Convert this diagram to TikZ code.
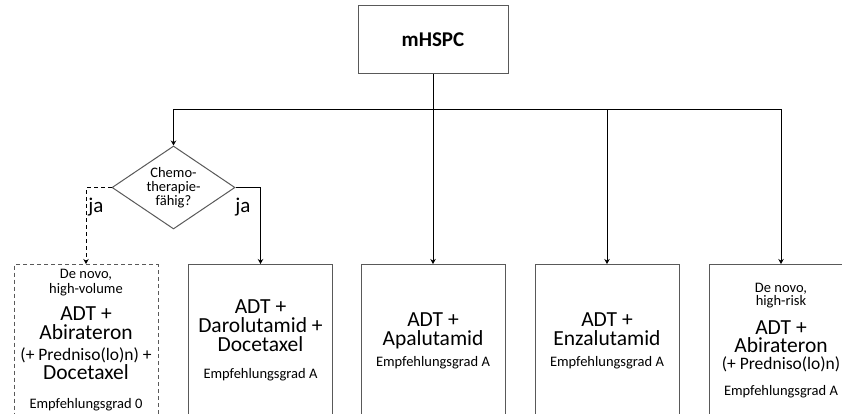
\documentclass[tikz,border=0pt]{standalone}
\usepackage{fontspec}
\setmainfont{Carlito}
\usetikzlibrary{shapes.geometric,arrows.meta}

\newcommand{\smtxt}[1]{{\fontsize{14.5}{13}\selectfont #1}}
\newcommand{\midtxt}[1]{{\fontsize{17.5}{17}\selectfont #1}}

\begin{document}
\begin{tikzpicture}[x=1pt,y=-1pt,
		>={Stealth[length=5pt,width=5.5pt]},
		line/.style={line width=0.8pt},
		box/.style={draw=black!65, line width=1pt, minimum width=144pt, minimum height=152pt,
			anchor=north, align=center, inner sep=0pt, font=\fontsize{21.5}{19}\selectfont},
		decision/.style={diamond, draw=black!65, line width=1pt, minimum width=123pt,
			minimum height=83pt, shape aspect=1.48, inner sep=0pt, align=center,
			font=\fontsize{14.5}{14}\selectfont}]
			\clip (0,0) rectangle (842,414);
			\def \y{264};
			% top and decision
			\node[draw=black!65, line width=1pt, minimum width=150pt, minimum height=68pt,
				font=\bfseries\fontsize{21}{24}\selectfont] (mhspc) at (433,40) {mHSPC};
			\coordinate (split) at (433,109);
			\node[decision] (chemo) at (173.5,187.5) {Chemo-\\therapie-\\fähig?};
			\node[font=\fontsize{21}{24}\selectfont] (jal) at (96,207) {ja};
			\node[font=\fontsize{21}{24}\selectfont] (jar) at (243,207) {ja};
			% therapy boxes
			\node[box, dash pattern=on 4pt off 3pt] (b1) at (86,\y) {\smtxt{De novo,}\\[-4pt] \smtxt{high-volume}\\[8pt] ADT +\\ Abirateron\\[2pt] \midtxt{(+ Predniso(lo)n) +}\\ Docetaxel\\[10pt] \smtxt{Empfehlungsgrad 0}};
			\node[box] (b2) at (260.5,\y) {ADT +\\ Darolutamid +\\ Docetaxel\\[8pt] \smtxt{Empfehlungsgrad A}};
			\node[box] (b3) at (433,\y) {ADT +\\ Apalutamid\\[2pt] \smtxt{Empfehlungsgrad A}};
			\node[box] (b4) at (607,\y) {ADT +\\ Enzalutamid\\[2pt] \smtxt{Empfehlungsgrad A}};
			\node[box] (b5) at (781,\y) {\smtxt{De novo,}\\[-6pt] \smtxt{high-risk}\\[10pt] ADT +\\[-1pt] Abirateron\\[-2pt] \midtxt{(+ Predniso(lo)n)}\\[7pt] \smtxt{Empfehlungsgrad A}};
			% connectors
			\draw[line,->] (mhspc.south) -- (b3.north);
			\draw[line,->] (split) -| (chemo.north);
			\draw[line,->] (split) -| (b4.north);
			\draw[line,->] (split) -| (b5.north);
			\draw[line,->] (chemo.east) -| (b2.north);
			\draw[line,dash pattern=on 4pt off 3pt,->] (chemo.west) -| (b1.north);
		\end{tikzpicture}
\end{document}
